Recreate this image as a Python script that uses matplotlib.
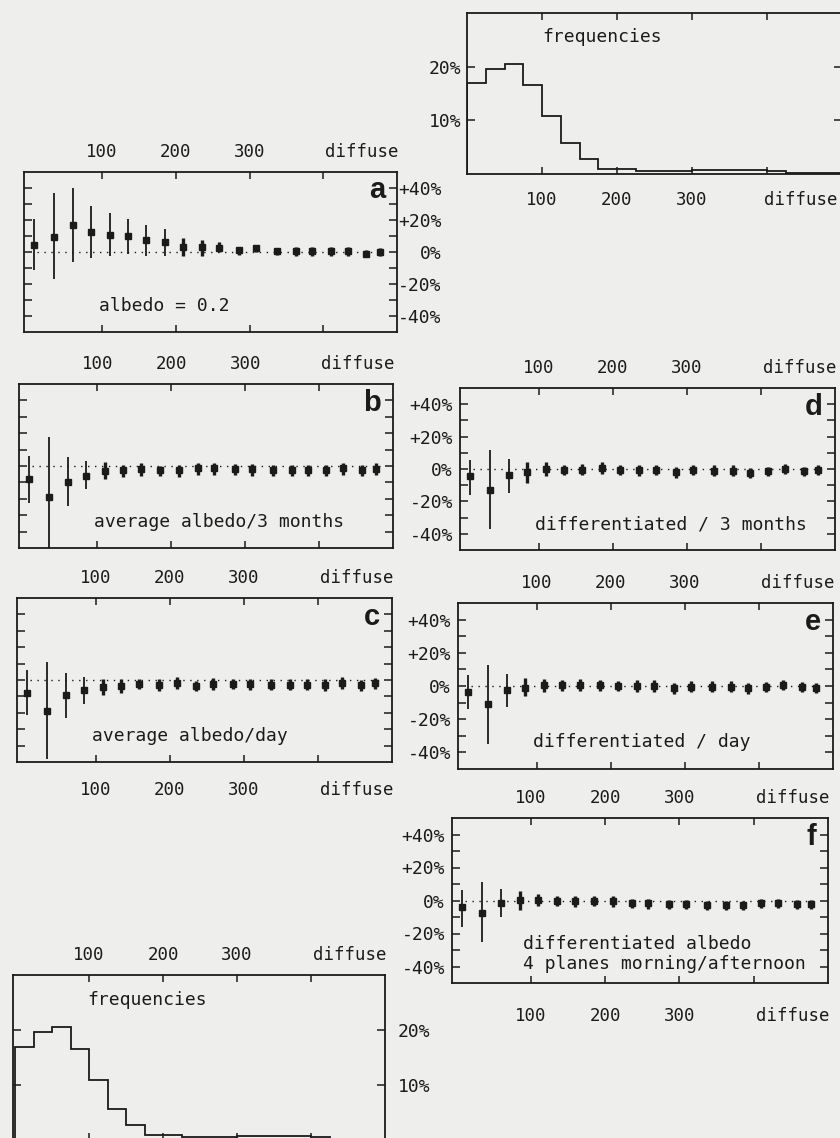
import numpy as np
import matplotlib.pyplot as plt

W, H = 840, 1138
INK = '#1b1b1b'
PAPER = '#eeeeec'

# centres of the diffuse-radiation classes (same for every error panel)
diffuse = [7, 35, 60, 85, 110, 135, 159, 185, 210, 236,
           258, 286, 309, 337, 363, 385, 410, 433, 458, 477]

# a: albedo = 0.2   (mean, upper end, lower end, in %)
a_mean = [4.3, 9.2, 16.6, 12.3, 10.8, 9.9, 7.5, 6.5, 3.2, 3.2,
          2.2, 1.0, 2.2, 0.6, 0.6, 0.6, 0.6, 0.6, -1.0, 0.0]
a_hi = [20.4, 36.6, 40.2, 28.8, 24.5, 20.9, 16.8, 14.6, 8.6, 7.3,
        6.5, 3.2, 4.3, 2.6, 3.0, 3.2, 3.2, 3.2, 1.0, 2.6]
a_lo = [-11.4, -16.8, -6.0, -3.7, -2.8, -1.1, -2.2, -2.2, -2.2, -2.2,
        0.0, -2.0, 0.0, -1.7, -2.2, -2.6, -2.6, -2.6, -3.0, -2.6]

# b: average albedo / 3 months
b_mean = [-7.7, -18.8, -9.8, -6.0, -3.1, -2.5, -1.9, -2.5, -2.5, -1.5,
          -1.5, -2.1, -2.1, -2.5, -2.5, -2.5, -2.5, -1.5, -2.5, -1.9]
b_hi = [6.3, 17.7, 5.2, 3.1, 2.7, 0.6, 1.7, 0.2, 0.6, 1.7,
        1.7, 1.0, 1.0, 0.6, 0.6, 0.6, 0.6, 1.7, 0.6, 1.7]
b_lo = [-22.3, -52.0, -24.4, -14.0, -8.1, -6.7, -6.2, -6.0, -6.7, -5.6,
        -5.6, -5.6, -6.0, -6.0, -6.2, -6.0, -6.0, -5.2, -6.0, -5.2]

# c: average albedo / day
c_mean = [-7.9, -18.8, -9.2, -6.0, -4.2, -3.5, -2.5, -2.9, -1.9, -3.5,
          -2.5, -2.5, -2.5, -2.9, -2.9, -2.9, -2.9, -2.1, -3.1, -2.1]
c_hi = [5.8, 11.0, 4.2, 1.7, 0.6, 0.6, 0.6, 0.6, 1.7, -0.4,
        1.3, 0.6, 0.6, 0.6, 0.6, 0.6, 0.6, 1.7, 0.0, 1.3]
c_lo = [-21.3, -48.3, -23.3, -14.6, -9.4, -7.7, -5.6, -6.7, -5.2, -6.7,
        -6.0, -5.6, -6.0, -6.3, -6.3, -6.3, -6.7, -5.6, -6.7, -5.6]

# d: differentiated / 3 months
d_mean = [-4.6, -13.0, -3.8, -1.7, 0.0, -0.6, -0.6, 0.6, -0.6, -0.6,
          -0.6, -2.0, -0.6, -1.0, -1.0, -2.5, -1.5, 0.0, -1.5, -0.6]
d_hi = [5.3, 11.6, 6.3, 4.2, 4.2, 2.7, 3.2, 4.2, 2.2, 2.7,
        2.7, 1.0, 2.2, 2.2, 2.2, 0.6, 1.0, 3.2, 1.5, 2.7]
d_lo = [-15.8, -36.8, -14.7, -8.4, -4.6, -3.6, -3.6, -3.2, -3.6, -4.2,
        -3.6, -5.3, -3.6, -4.6, -4.2, -5.7, -4.2, -3.2, -4.2, -3.6]

# e: differentiated / day
e_mean = [-3.8, -11.0, -2.5, -1.0, 0.4, 0.4, 0.4, 0.4, 0.0, 0.0,
          0.0, -1.5, -0.4, -0.4, -0.4, -1.5, -0.4, 0.4, -0.6, -1.0]
e_hi = [6.7, 12.6, 7.4, 4.6, 4.2, 3.8, 4.2, 3.8, 3.2, 3.6,
        3.6, 2.1, 3.2, 3.2, 3.2, 2.1, 2.7, 3.6, 2.5, 2.1]
e_lo = [-13.7, -34.7, -12.6, -6.3, -3.8, -3.2, -3.2, -3.2, -3.2, -3.8,
        -3.6, -4.6, -3.6, -3.6, -3.8, -4.8, -3.6, -2.5, -3.8, -4.2]

# f: differentiated albedo, 4 planes morning/afternoon
f_mean = [-4.2, -7.4, -1.5, 0.4, 0.4, 0.0, 0.0, 0.0, -0.4, -1.7,
          -1.7, -2.1, -2.1, -2.5, -2.5, -2.5, -1.7, -1.7, -2.1, -2.1]
f_hi = [6.3, 11.0, 6.7, 5.7, 3.8, 2.5, 2.5, 2.5, 2.5, 1.1,
        1.1, 0.6, 0.6, 0.0, 0.0, 0.0, 1.1, 1.1, 0.4, 0.4]
f_lo = [-15.8, -25.3, -10.0, -5.9, -3.2, -3.2, -3.8, -3.2, -3.8, -4.6,
        -5.3, -5.3, -5.3, -5.7, -5.7, -5.7, -4.6, -4.6, -5.3, -5.3]

# frequency distribution of the diffuse classes (%)
freq_edges = list(range(0, 525, 25))
freq = [16.9, 19.6, 20.5, 16.6, 10.9, 5.7, 2.8, 1.0, 1.0, 0.6,
        0.6, 0.6, 0.8, 0.8, 0.8, 0.8, 0.5, 0.2, 0.1, 0.1]

x_ticks = [100, 200, 300, 400]
x_labels = ['100', '200', '300', '']
pct_ticks = [-40, -20, 0, 20, 40]
pct_labels = ['-40%', '-20%', '0%', '+20%', '+40%']

plt.rcParams['font.family'] = ['DejaVu Sans Mono']
plt.rcParams['text.color'] = INK
plt.rcParams['xtick.color'] = INK
plt.rcParams['ytick.color'] = INK

fig = plt.figure(figsize=(W / 100, H / 100), dpi=100, facecolor=PAPER)


def box(left, top, right, bottom):
    ax = fig.add_axes([left / W, 1 - bottom / H, (right - left) / W, (bottom - top) / H])
    ax.set_facecolor('none')
    for s in ax.spines.values():
        s.set_linewidth(1.3)
        s.set_color(INK)
    return ax


def x_axis(ax, top, bottom, lo=-6, top_pad=8, bottom_pad=14):
    ax.set_xlim(lo, 500)
    ax.set_xticks(x_ticks, x_labels)
    ax.set_xticks([452], ['diffuse'], minor=True)
    ax.tick_params(axis='x', which='both', direction='in', top=True, bottom=True,
                   length=5, width=1.1, labelsize=12.5,
                   labeltop=top, labelbottom=bottom and not top,
                   pad=top_pad if top else bottom_pad)
    ax.tick_params(axis='x', which='minor', length=0)
    if top and bottom:
        sec = ax.secondary_xaxis('bottom')
        sec.set_xticks(x_ticks, x_labels)
        sec.set_xticks([452], ['diffuse'], minor=True)
        sec.tick_params(axis='x', which='both', length=0, labelsize=12.5, pad=bottom_pad)
        sec.spines['bottom'].set_visible(False)


def err_panel(ax, mean, hi, lo, letter, note, side):
    ax.set_ylim(-50, 50)
    ax.hlines(0, 12, 482, colors=INK, linestyles=(0, (1, 4)), linewidth=1.0)
    widths = [1.3 if h - l > 14 else 2.4 for h, l in zip(hi, lo)]
    ax.vlines(diffuse, lo, hi, colors=INK, linewidths=widths)
    ax.plot(diffuse, mean, ls='none', marker='s', ms=4.3, color=INK)
    ax.set_yticks(pct_ticks, pct_labels)
    ax.set_yticks([-30, -10, 10, 30], minor=True)
    ax.tick_params(axis='y', which='both', direction='in', left=True, right=True,
                   length=6, width=1.1, labelsize=13,
                   labelleft=side == 'left', labelright=side == 'right',
                   pad=32 if side == 'right' else 5)
    if side == 'right':
        for lab in ax.get_yticklabels():
            lab.set_horizontalalignment('right')
    ax.text(0.968, 0.885, letter, transform=ax.transAxes, ha='right', va='center',
            fontsize=21, fontweight='bold', family=['Liberation Sans', 'DejaVu Sans'])
    ax.text(0.2, 0.16, note, transform=ax.transAxes, ha='left', va='center',
            fontsize=13, linespacing=1.15)


def freq_panel(ax, side, lo):
    ax.stairs(freq, freq_edges, color=INK, linewidth=1.3)
    ax.set_ylim(0, 30)
    ax.set_yticks([10, 20], ['10%', '20%'])
    ax.tick_params(axis='y', direction='in', left=True, right=True, length=6,
                   width=1.1, labelsize=13, labelleft=side == 'left',
                   labelright=side == 'right', pad=4 if side == 'left' else 9)
    ax.text(0.2, 0.85, 'frequencies', transform=ax.transAxes, ha='left',
            va='center', fontsize=13)


# left column
ax_a = box(24, 172, 397, 332)
x_axis(ax_a, top=True, bottom=False)
err_panel(ax_a, a_mean, a_hi, a_lo, 'a', 'albedo = 0.2', 'right')

ax_b = box(19, 384, 393, 548)
x_axis(ax_b, top=True, bottom=False)
err_panel(ax_b, b_mean, b_hi, b_lo, 'b', 'average albedo/3 months', None)

ax_c = box(17, 598, 392, 762)
x_axis(ax_c, top=True, bottom=True, bottom_pad=14)
err_panel(ax_c, c_mean, c_hi, c_lo, 'c', 'average albedo/day', None)

ax_g = box(13, 975, 385, 1140)
x_axis(ax_g, top=True, bottom=False, lo=-3)
freq_panel(ax_g, 'right', -3)

# right column
ax_h = box(467, 13, 842, 174)
x_axis(ax_h, top=False, bottom=True, lo=0, bottom_pad=12)
ax_h.set_xticks([445], ['diffuse'], minor=True)
freq_panel(ax_h, 'left', 0)

ax_d = box(460, 388, 835, 550)
x_axis(ax_d, top=True, bottom=False)
err_panel(ax_d, d_mean, d_hi, d_lo, 'd', 'differentiated / 3 months', 'left')

ax_e = box(458, 603, 833, 769)
x_axis(ax_e, top=True, bottom=False)
err_panel(ax_e, e_mean, e_hi, e_lo, 'e', 'differentiated / day', 'left')

ax_f = box(452, 818, 828, 983)
x_axis(ax_f, top=True, bottom=True, bottom_pad=17)
err_panel(ax_f, f_mean, f_hi, f_lo, 'f',
          'differentiated albedo\n4 planes morning/afternoon', 'left')
ax_f.texts[-1].set_position((0.19, 0.175))

fig.savefig('out.png', dpi=100, facecolor=PAPER)
